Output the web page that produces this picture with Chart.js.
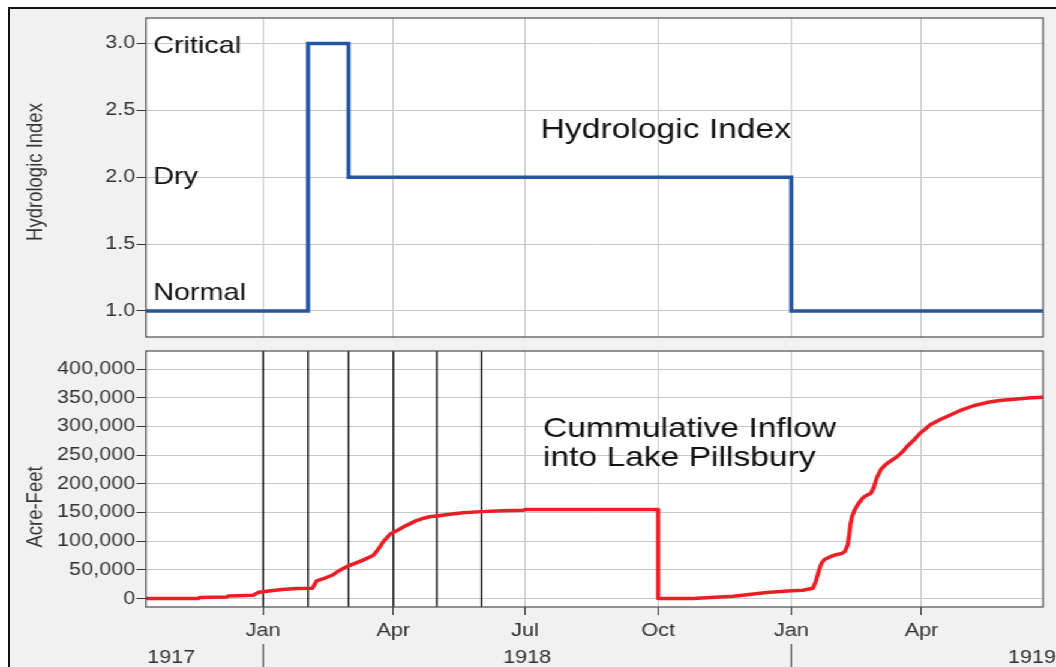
<!DOCTYPE html>
<html><head><meta charset="utf-8">
<script src="https://cdn.jsdelivr.net/npm/chart.js@4.4.1/dist/chart.umd.min.js"></script>
<style>
html,body{margin:0;padding:0;background:#fff;width:1056px;height:667px;overflow:hidden;}
#frame{position:absolute;left:8px;top:7px;width:1100px;height:700px;background:#f0f1f0;border-left:2px solid #111;border-top:2px solid #111;}
#wrap{position:absolute;left:0;top:0;width:880px;height:667px;transform:scaleX(1.2);transform-origin:0 0;}
#wrap canvas{position:absolute;left:0;}
</style></head><body>
<div id="frame"></div>
<div id="wrap">
<canvas id="c1" width="880" height="340" style="top:0px"></canvas>
<canvas id="c2" width="880" height="327" style="top:340px"></canvas>
</div>
<script>
const FONT = "'Liberation Sans', Arial, Helvetica, sans-serif";

// ---- data ----
const xRangeDates = ['1917-10-12', '1919-06-24'];
const monthTickDates = ['1918-01-01','1918-04-01','1918-07-01','1918-10-01','1919-01-01','1919-04-01'];
const monthTickLabels = ['Jan','Apr','Jul','Oct','Jan','Apr'];
const yearLabels = ['1917','1918','1919'];
const yearStartDates = ['1918-01-01','1919-01-01'];

const indexDates = ['1917-10-12','1918-02-01','1918-03-01','1919-01-01','1919-06-24'];
const indexValues = [1, 3, 2, 1, 1];
const indexTicks = [1.0, 1.5, 2.0, 2.5, 3.0];
const indexRange = [0.805, 3.19];
const indexLevelNames = ['Normal', 'Dry', 'Critical'];
const indexLevelValues = [1, 2, 3];

const markerDates = ['1918-01-01','1918-02-01','1918-03-01','1918-04-01','1918-05-01','1918-06-01'];

const inflowDates = [
 '1917-10-12','1917-11-17','1917-11-18','1917-12-07','1917-12-08','1917-12-25','1917-12-29',
 '1918-01-05','1918-01-14','1918-01-24','1918-02-04','1918-02-07','1918-02-12','1918-02-18',
 '1918-02-22','1918-02-28','1918-03-05','1918-03-11','1918-03-18','1918-03-21','1918-03-25','1918-03-30',
 '1918-04-04','1918-04-08','1918-04-13','1918-04-17','1918-04-22','1918-04-26','1918-05-01','1918-05-10',
 '1918-05-19','1918-06-01','1918-06-15','1918-06-30',
 '1918-07-01','1918-10-01','1918-10-01','1918-10-25','1918-11-22','1918-12-15','1919-01-01',
 '1919-01-09','1919-01-16','1919-01-18','1919-01-20','1919-01-22','1919-01-24','1919-01-28','1919-02-01',
 '1919-02-05','1919-02-07','1919-02-09','1919-02-10','1919-02-11','1919-02-12','1919-02-14','1919-02-16',
 '1919-02-19','1919-02-21','1919-02-25','1919-02-27','1919-03-01','1919-03-04','1919-03-07','1919-03-10',
 '1919-03-15','1919-03-19','1919-03-22','1919-03-27','1919-03-31','1919-04-03','1919-04-07','1919-04-14',
 '1919-04-21','1919-04-29','1919-05-07','1919-05-16','1919-05-25','1919-06-08','1919-06-16','1919-06-24'];
const inflowValues = [
 0, 0, 1700, 2800, 4500, 5800, 11000,
 13300, 15700, 17500, 18000, 31000, 35000, 41000,
 48000, 56000, 61000, 67000, 75000, 84000, 99000, 113000,
 119000, 125000, 131000, 136000, 140000, 142500, 144000, 147000,
 149500, 151500, 153000, 154000,
 155000, 155000, 0, 0, 4000, 10500, 13500,
 14500, 18000, 30000, 48000, 62000, 68000, 73000, 76500,
 78500, 82000, 93000, 110000, 130000, 143000, 155000, 164000,
 174000, 178500, 183500, 193000, 210000, 225000, 233000, 238600,
 247000, 256000, 265000, 277000, 288000, 294000, 303000, 312000,
 320000, 329000, 336000, 341500, 345000, 348000, 350000, 351000];
const inflowTicks = [0, 50000, 100000, 150000, 200000, 250000, 300000, 350000, 400000];
const inflowRange = [-14700, 431400];

// ---- helpers ----
function dayOf(s){ const [y,m,d] = s.split('-').map(Number); return (Date.UTC(y,m-1,d) - Date.UTC(1918,0,1)) / 864e5; }
const xMin = dayOf(xRangeDates[0]), xMax = dayOf(xRangeDates[1]);
const monthTicks = monthTickDates.map(dayOf);
const PLOT_LEFT = 121.67, PLOT_RIGHT_PAD = 10.83;

function fixY(s){ s.width = PLOT_LEFT; s.paddingTop = 0; s.paddingBottom = 0; }

const plotFrame = {
  id: 'plotFrame',
  beforeDraw(c){ const {ctx, chartArea:a} = c; ctx.save(); ctx.fillStyle = '#ffffff';
    ctx.fillRect(a.left, a.top, a.right - a.left, a.bottom - a.top); ctx.restore(); },
  afterDraw(c){ const {ctx, chartArea:a} = c; ctx.save(); ctx.strokeStyle = '#4d4d4d'; ctx.lineWidth = 1.2;
    ctx.strokeRect(a.left, a.top, a.right - a.left, a.bottom - a.top); ctx.restore(); }
};

function rotatedText(ctx, text, x, y, font, color){
  ctx.save(); ctx.translate(x, y); ctx.rotate(-Math.PI/2);
  ctx.font = font; ctx.fillStyle = color; ctx.textAlign = 'center'; ctx.textBaseline = 'middle';
  ctx.fillText(text, 0, 0); ctx.restore();
}

const topText = {
  id: 'topText',
  afterDatasetsDraw(c){
    const {ctx, chartArea:a, scales:{y}} = c;
    ctx.save();
    ctx.fillStyle = '#111'; ctx.textAlign = 'left'; ctx.textBaseline = 'alphabetic';
    ctx.font = '24px ' + FONT;
    const offs = [-11, 7, 10];
    indexLevelNames.forEach((n, i) => ctx.fillText(n, a.left + 6, y.getPixelForValue(indexLevelValues[i]) + offs[i]));
    ctx.font = '28px ' + FONT;
    ctx.fillText('Hydrologic Index', 450.6, 137.5);
    ctx.restore();
    rotatedText(ctx, 'Hydrologic Index', 29.5, 172, '18.5px ' + FONT, '#333');
  }
};

const bottomText = {
  id: 'bottomText',
  afterDatasetsDraw(c){
    const {ctx} = c;
    ctx.save();
    ctx.fillStyle = '#111'; ctx.textAlign = 'left'; ctx.textBaseline = 'alphabetic';
    ctx.font = '28px ' + FONT;
    ctx.fillText('Cummulative Inflow', 452.5, 96.5);
    ctx.fillText('into Lake Pillsbury', 452.5, 125.5);
    ctx.restore();
    rotatedText(ctx, 'Acre-Feet', 29.5, 167, '18.5px ' + FONT, '#333');
  },
  afterDraw(c){
    const {ctx, chartArea:a, scales:{x}} = c;
    ctx.save();
    ctx.strokeStyle = '#333'; ctx.lineWidth = 1;
    yearStartDates.forEach(d => { const px = x.getPixelForValue(dayOf(d)); ctx.beginPath(); ctx.moveTo(px, 304); ctx.lineTo(px, 327); ctx.stroke(); });
    ctx.fillStyle = '#333'; ctx.font = '18px ' + FONT; ctx.textBaseline = 'alphabetic';
    const b0 = x.getPixelForValue(dayOf(yearStartDates[0])), b1 = x.getPixelForValue(dayOf(yearStartDates[1]));
    ctx.textAlign = 'left'; ctx.fillText(yearLabels[0], a.left + 1, 323);
    ctx.textAlign = 'center'; ctx.fillText(yearLabels[1], (b0 + b1) / 2, 323);
    ctx.textAlign = 'right'; ctx.fillText(yearLabels[2], c.width, 323);
    ctx.restore();
  }
};

Chart.defaults.font.family = FONT;

new Chart(document.getElementById('c1'), {
  type: 'line',
  data: { datasets: [{
    data: indexDates.map((d, i) => ({x: dayOf(d), y: indexValues[i]})),
    stepped: 'before', borderColor: '#2755a6', borderWidth: 3.5, pointRadius: 0, fill: false
  }]},
  options: {
    responsive: false, animation: false, devicePixelRatio: 1,
    layout: { padding: { top: 18, right: PLOT_RIGHT_PAD, bottom: 3, left: 0 } },
    plugins: { legend: { display: false }, tooltip: { enabled: false } },
    scales: {
      x: { type: 'linear', min: xMin, max: xMax,
        afterBuildTicks: s => { s.ticks = monthTicks.map(v => ({value: v})); },
        afterFit: s => { s.height = 0; s.paddingLeft = 0; s.paddingRight = 0; },
        ticks: { display: false }, border: { display: false },
        grid: { color: '#c8c8c8', lineWidth: 1, drawTicks: false } },
      y: { type: 'linear', min: indexRange[0], max: indexRange[1],
        afterBuildTicks: s => { s.ticks = indexTicks.map(v => ({value: v})); },
        afterFit: fixY,
        ticks: { callback: v => Number(v).toFixed(1), color: '#333', font: { size: 18 }, padding: 1 },
        border: { display: false },
        grid: { color: '#c8c8c8', lineWidth: 1, tickColor: '#333', tickLength: 8 } }
    }
  },
  plugins: [plotFrame, topText]
});

new Chart(document.getElementById('c2'), {
  type: 'line',
  data: { datasets: [
    { data: inflowDates.map((d, i) => ({x: dayOf(d), y: inflowValues[i]})),
      borderColor: '#ee1d25', borderWidth: 3.5, pointRadius: 0, fill: false, tension: 0, order: 0,
      borderJoinStyle: 'round', borderCapStyle: 'round' },
    { data: markerDates.flatMap(d => [{x: dayOf(d), y: inflowRange[0]}, {x: dayOf(d), y: inflowRange[1]}, {x: dayOf(d), y: null}]),
      borderColor: '#000000', borderWidth: 1.3, pointRadius: 0, fill: false, spanGaps: false, order: 1 }
  ]},
  options: {
    responsive: false, animation: false, devicePixelRatio: 1,
    layout: { padding: { top: 11, right: PLOT_RIGHT_PAD, bottom: 0, left: 0 } },
    plugins: { legend: { display: false }, tooltip: { enabled: false } },
    scales: {
      x: { type: 'linear', min: xMin, max: xMax,
        afterBuildTicks: s => { s.ticks = monthTicks.map(v => ({value: v})); },
        afterFit: s => { s.height = 60; s.paddingLeft = 0; s.paddingRight = 0; },
        ticks: { callback: (v, i) => monthTickLabels[i], color: '#333', font: { size: 18 }, padding: 5, maxRotation: 0, autoSkip: false },
        border: { display: false },
        grid: { color: '#c8c8c8', lineWidth: 1, tickColor: '#333', tickLength: 8 } },
      y: { type: 'linear', min: inflowRange[0], max: inflowRange[1],
        afterBuildTicks: s => { s.ticks = inflowTicks.map(v => ({value: v})); },
        afterFit: fixY,
        ticks: { callback: v => Number(v).toLocaleString('en-US'), color: '#333', font: { size: 18 }, padding: 1 },
        border: { display: false },
        grid: { color: '#c8c8c8', lineWidth: 1, tickColor: '#333', tickLength: 8 } }
    }
  },
  plugins: [plotFrame, bottomText]
});
</script>
</body></html>
